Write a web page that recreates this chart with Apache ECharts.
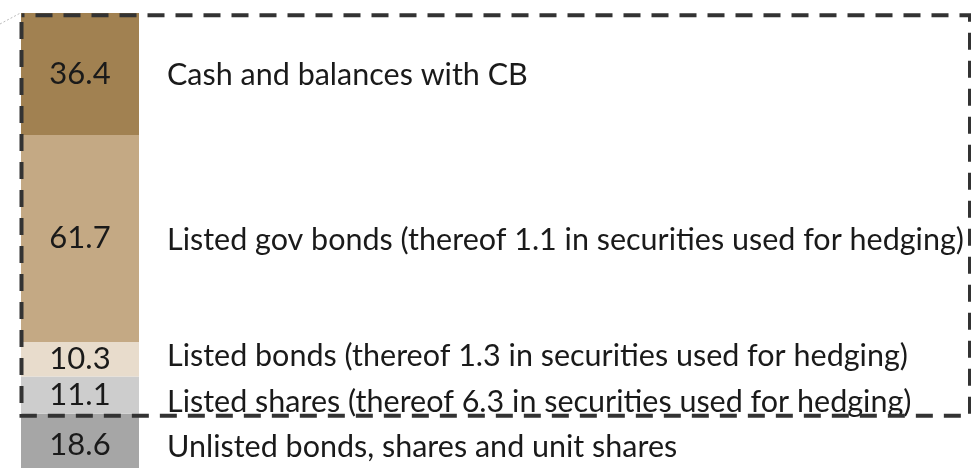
<!DOCTYPE html>
<html>
<head>
<meta charset="utf-8">
<script src="https://cdn.jsdelivr.net/npm/echarts@6/dist/echarts.min.js"></script>
<style>
html,body{margin:0;padding:0;background:#fff;overflow:hidden;width:971px;height:468px;}
#chart{width:971px;height:476px;}
</style>
</head>
<body>
<div id="chart"></div>
<script>
// Data (bottom of stack first)
const categories = ['Holdings'];
const names = [
  'Unlisted bonds, shares and unit shares',
  'Listed shares (thereof 6.3 in securities used for hedging)',
  'Listed bonds (thereof 1.3 in securities used for hedging)',
  'Listed gov bonds (thereof 1.1 in securities used for hedging)',
  'Cash and balances with CB'
];
const values = [18.6, 11.1, 10.3, 61.7, 36.4];
// boxed group = all but the first (bottom) segment
const boxedFrom = 1;

// Styles
const colors = ['#A6A6A6', '#CDCDCD', '#E8DCCC', '#C4A984', '#A18151'];
const nameOffsets = [2, 7, -3, 2, 1];
const FONT = 'Lato, "Open Sans", sans-serif';

const total = values.reduce((a, b) => a + b, 0);

const chart = echarts.init(document.getElementById('chart'), null, {renderer: 'canvas'});

const valueSeries = values.map((v, i) => ({
  name: names[i],
  type: 'bar',
  stack: 'vals',
  barWidth: 118,
  barGap: '-100%',
  data: [v],
  itemStyle: {color: colors[i]},
  label: {
    show: true,
    position: 'inside',
    formatter: (p) => p.value.toFixed(1),
    color: '#1a1a1a',
    fontFamily: FONT,
    fontSize: 31
  },
  emphasis: {disabled: true},
  silent: true,
  z: 2
}));

const nameSeries = values.map((v, i) => ({
  name: names[i] + ' label',
  type: 'bar',
  stack: 'names',
  barWidth: 118,
  barGap: '-100%',
  data: [v],
  itemStyle: {color: 'rgba(0,0,0,0)'},
  label: {
    show: true,
    position: 'right',
    distance: 28,
    offset: [0, nameOffsets[i]],
    formatter: () => names[i],
    color: '#1a1a1a',
    fontFamily: FONT,
    fontSize: 30.5
  },
  emphasis: {disabled: true},
  silent: true,
  z: 3
}));

chart.setOption({
  animation: false,
  backgroundColor: '#fff',
  grid: {left: 21, top: 13, width: 118, bottom: 0, containLabel: false},
  xAxis: {
    type: 'category',
    data: categories,
    show: false,
    boundaryGap: true
  },
  yAxis: {
    type: 'value',
    min: 0,
    max: total,
    show: false
  },
  series: valueSeries.concat(nameSeries)
});

// Dashed box around the boxed segments, positioned from the data scale
const yTop = chart.convertToPixel({gridIndex: 0}, [0, total])[1];
const yBot = chart.convertToPixel({gridIndex: 0}, [0, values.slice(0, boxedFrom).reduce((a, b) => a + b, 0)])[1];
const xLeft = chart.convertToPixel({gridIndex: 0}, [0, 0])[0] - 59 + 0.5;

chart.setOption({
  graphic: [
    {
      type: 'rect',
      shape: {x: xLeft, y: yTop + 2.3, width: 970 - xLeft, height: (yBot + 2) - (yTop + 2.3)},
      style: {fill: 'none', stroke: '#333', lineWidth: 4, lineDash: [17, 11], lineDashOffset: 14},
      z: 10,
      silent: true
    },
    {
      type: 'line',
      shape: {x1: 0, y1: 24, x2: xLeft - 1, y2: yTop},
      style: {stroke: '#bbb', lineWidth: 1, lineDash: [2, 2]},
      z: 10,
      silent: true
    }
  ]
});
</script>
</body>
</html>
